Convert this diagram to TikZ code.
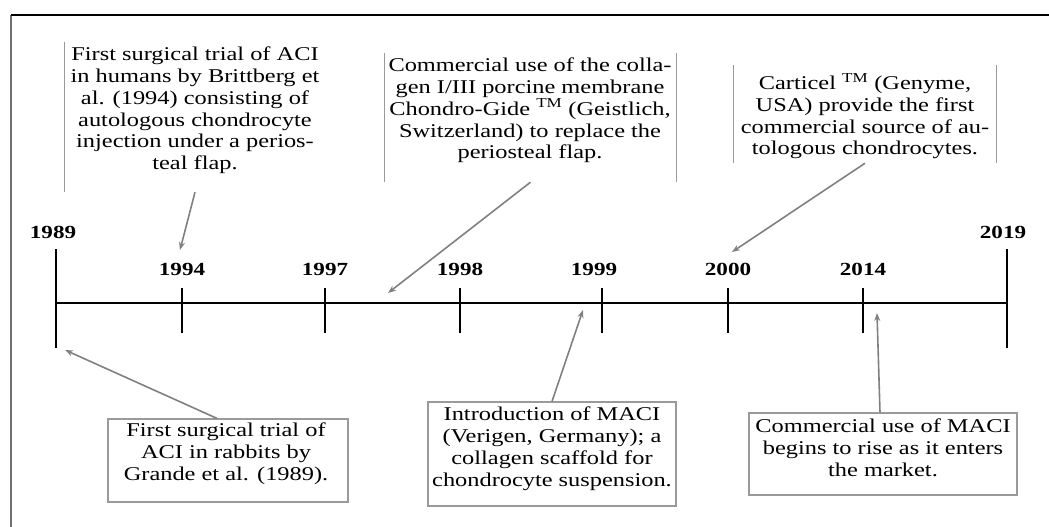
\documentclass[tikz,border=0pt]{standalone}
\usepackage{fontspec}
\setmainfont{Liberation Serif}[FakeStretch=1.25]
\usetikzlibrary{arrows.meta}
\definecolor{arrowgray}{HTML}{808080}
\definecolor{boxgray}{HTML}{9A9A9A}
\definecolor{framegray}{HTML}{707070}
\begin{document}
\begin{tikzpicture}[x=1pt,y=-1pt,
  txt/.style={align=center, inner sep=0pt, anchor=north, font=\fontsize{19.5}{21.7}\selectfont},
  yr/.style={font=\fontsize{18.5}{20}\selectfont\bfseries, inner sep=0pt, anchor=base},
  axis/.style={line width=1.8pt, black},
  tickmark/.style={line width=1.6pt, black},
  arr/.style={draw=arrowgray, line width=1.6pt, -{Stealth[length=8pt,width=6pt]}},
  box/.style={draw=boxgray, line width=1.2pt, inner sep=0pt},
  sidebox/.style={inner sep=0pt},
  side/.style={draw=boxgray, line width=1.2pt},
  frameline/.style={line width=1.2pt}]
\useasboundingbox (0,0) rectangle (1049,527);
% frame
\draw[frameline, draw=framegray] (11,527) -- (11,15);
\draw[frameline, draw=black] (11,15) -- (1049,15);
% timeline
\coordinate (t89) at (56,303);
\coordinate (t94) at (182,303);
\coordinate (t97) at (325,303);
\coordinate (t98) at (460,303);
\coordinate (t99) at (602,303);
\coordinate (t00) at (728,303);
\coordinate (t14) at (863,303);
\coordinate (t19) at (1007,303);
\draw[axis] (t89) -- (t19);
\draw[tickmark] ([yshift=54pt]t89) -- ([yshift=-45pt]t89);
\draw[tickmark] ([yshift=54pt]t19) -- ([yshift=-45pt]t19);
\foreach \t in {t94,t97,t98,t99,t00,t14}
  \draw[tickmark] ([yshift=15pt]\t) -- ([yshift=-30pt]\t);
% years
\node[yr] (y89) at (53,238) {1989};
\node[yr] (y19) at (1003,238) {2019};
\node[yr] (y94) at (182,275) {1994};
\node[yr] (y97) at (325,275) {1997};
\node[yr] (y98) at (460,275) {1998};
\node[yr] (y99) at (594,275) {1999};
\node[yr] (y00) at (728,275) {2000};
\node[yr] (y14) at (863,275) {2014};
% top boxes
\node[sidebox, minimum width=260pt, minimum height=150pt] (b1) at (195,117) {};
\node[sidebox, minimum width=291pt, minimum height=129pt] (b2) at (530.5,117.5) {};
\node[sidebox, minimum width=262pt, minimum height=98pt] (b3) at (865,114) {};
\draw[side] (b1.north west) -- (b1.south west);
\draw[side] (b2.north west) -- (b2.south west);
\draw[side] (b2.north east) -- (b2.south east);
\draw[side] (b3.north west) -- (b3.south west);
\draw[side] (b3.north east) -- (b3.south east);
\node[txt] (x1) at (195,47) {First surgical trial of ACI\\ in humans by Brittberg et\\ al. (1994) consisting of\\ autologous chondrocyte\\ injection under a perios-\\ teal flap.};
\node[txt] (x2) at (530,58) {Commercial use of the colla-\\gen I/III porcine membrane\\Chondro-Gide \textsuperscript{TM} (Geistlich,\\Switzerland) to replace the\\periosteal flap.};
\node[txt] (x3) at (865,73) {Carticel \textsuperscript{TM} (Genyme,\\USA) provide the first\\commercial source of au-\\tologous chondrocytes.};
% bottom boxes
\node[box, minimum width=240pt, minimum height=83pt] (b4) at (228,460.5) {};
\node[box, minimum width=248pt, minimum height=104pt] (b5) at (552,454) {};
\node[box, minimum width=268pt, minimum height=82pt] (b6) at (883,454) {};
\node[txt] (x4) at (226,423) {First surgical trial of\\ACI in rabbits by\\Grande et al. (1989).};
\node[txt] (x5) at (552,407) {Introduction of MACI\\(Verigen, Germany); a\\collagen scaffold for\\chondrocyte suspension.};
\node[txt] (x6) at (883,419) {Commercial use of MACI\\begins to rise as it enters\\the market.};
% arrow targets
\coordinate (p94) at (180,250);
\coordinate (p97) at (388,293);
\coordinate (p00) at (732,252);
\coordinate (p89) at (65,350);
\coordinate (p99) at (583,310);
\coordinate (p14) at (877,313);
% arrows
\draw[arr] (b1.south) -- (p94);
\draw[arr] (b2.south) -- (p97);
\draw[arr] (b3.south) -- (p00);
\draw[arr] ([xshift=-11pt]b4.north) -- (p89);
\draw[arr] (b5.north) -- (p99);
\draw[arr] ([xshift=-3pt]b6.north) -- (p14);
\end{tikzpicture}
\end{document}
